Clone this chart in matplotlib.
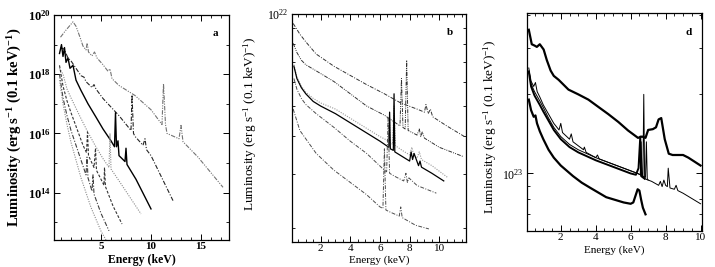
import numpy as np
import matplotlib
matplotlib.use('Agg')
import matplotlib.pyplot as plt
from matplotlib.ticker import FixedLocator, MultipleLocator, LogLocator, NullFormatter, FuncFormatter

plt.rcParams['font.family'] = ['Liberation Serif', 'DejaVu Serif']
plt.rcParams['mathtext.fontset'] = 'custom'
plt.rcParams['mathtext.rm'] = 'Liberation Serif'
plt.rcParams['mathtext.bf'] = 'Liberation Serif:bold'
plt.rcParams['mathtext.it'] = 'Liberation Serif:italic'

# ---- panel a : energy (keV) and log10 luminosity ----
A1_E = [0.95, 1.4, 1.9, 2.2, 2.5, 2.9, 3.2, 3.5, 3.62, 3.75, 4.1, 4.35, 4.6, 5.2, 5.7, 5.9, 6.1,
        6.8, 8.4, 10.0, 11.1, 11.25, 11.45, 11.6, 12.8, 13.0, 13.2, 14.7, 17.2]
A1_L = [19.25, 19.45, 19.65, 19.77, 19.62, 19.25, 18.95, 18.82, 19.05, 18.75, 18.62, 18.75, 18.55,
        18.32, 18.10, 18.18, 17.85, 17.62, 17.28, 16.80, 16.30, 17.68, 16.30, 16.00, 15.82, 16.27,
        15.72, 15.20, 14.18]
A2_E = [0.95, 1.3, 1.7, 2.0, 2.5, 3.0, 3.3, 3.5, 4.1, 4.3, 4.5, 5.2, 6.8, 8.0, 8.1, 8.25, 8.4,
        9.2, 9.4, 9.55, 10.0, 12.2]
A2_L = [18.90, 18.85, 18.55, 18.45, 18.20, 17.95, 17.90, 17.75, 17.55, 17.65, 17.50, 17.18, 16.60,
        16.10, 17.30, 16.00, 15.90, 15.60, 15.82, 15.45, 15.25, 13.73]
A3_E = [0.85, 1.05, 1.2, 1.35, 1.5, 1.7, 1.9, 2.2, 2.5, 3.0, 3.7, 4.5, 5.2, 6.0, 6.35, 6.45, 6.55,
        6.7, 6.8, 7.4, 7.5, 7.6, 8.5, 10.0]
A3_L = [18.70, 19.00, 18.60, 18.90, 18.40, 18.55, 18.20, 18.30, 17.80, 17.45, 17.00, 16.55, 16.15,
        15.75, 15.55, 16.70, 15.55, 15.75, 15.25, 15.05, 15.50, 14.95, 14.45, 13.45]
A4_E = [0.85, 1.2, 1.6, 2.0, 2.5, 3.0, 3.6, 4.4, 5.2, 5.8, 5.9, 6.0, 6.8, 9.0]
A4_L = [18.20, 18.00, 17.50, 17.20, 16.85, 16.50, 16.10, 15.60, 15.15, 14.85, 16.00, 14.80, 14.40,
        13.28]
A5_E = [0.85, 1.2, 1.6, 2.0, 2.6, 3.2, 3.55, 3.65, 3.75, 4.3, 4.45, 4.55, 5.3, 5.35, 5.45, 6.2, 7.1]
A5_L = [18.30, 17.60, 17.10, 16.70, 16.15, 15.60, 15.35, 16.05, 15.25, 14.85, 15.50, 14.75, 14.25,
        14.85, 14.20, 13.55, 12.94]
A6_E = [0.85, 1.2, 1.6, 2.0, 2.5, 3.0, 3.5, 3.6, 3.7, 4.1, 4.2, 4.3, 5.0, 5.8]
A6_L = [18.00, 17.20, 16.60, 16.10, 15.60, 15.10, 14.60, 15.20, 14.50, 14.05, 14.60, 13.95, 13.30,
        12.71]
A7_E = [0.85, 1.2, 1.6, 2.0, 2.5, 3.0, 3.5, 4.0, 4.5, 5.0, 5.5]
A7_L = [17.80, 17.00, 16.30, 15.70, 15.10, 14.50, 14.00, 13.50, 13.10, 12.70, 12.40]

# ---- panel b ----
B1_E = [0.15, 0.6, 1.0, 1.7, 2.9, 4.0, 5.1, 6.3, 7.4, 8.5, 9.0, 9.1, 9.25, 9.4, 9.55, 10.5, 11.7]
B1_L = [21.97, 21.935, 21.91, 21.87, 21.83, 21.80, 21.77, 21.74, 21.71, 21.69, 21.68, 21.705,
        21.675, 21.69, 21.665, 21.635, 21.60]
B2_E = [0.15, 0.4, 0.7, 1.0, 1.7, 2.9, 4.0, 5.1, 6.3, 7.35, 7.45, 7.55, 7.7, 7.8, 7.9, 8.5, 8.65,
        8.75, 8.85, 9.0, 10.0, 11.6]
B2_L = [21.905, 21.875, 21.85, 21.835, 21.815, 21.78, 21.74, 21.70, 21.67, 21.635, 21.79, 21.63,
        21.625, 21.85, 21.62, 21.605, 21.625, 21.60, 21.615, 21.595, 21.565, 21.535]
B3_E = [0.2, 0.4, 0.7, 1.0, 1.5, 2.0, 3.0, 4.0, 5.0, 6.0, 6.6, 6.65, 6.7, 6.85, 6.95, 7.05, 7.5,
        8.0, 8.15, 8.3, 8.5, 8.65, 8.8, 9.5, 10.6]
B3_L = [21.835, 21.795, 21.765, 21.745, 21.725, 21.71, 21.69, 21.66, 21.63, 21.60, 21.585, 21.66,
        21.58, 21.575, 21.70, 21.57, 21.555, 21.54, 21.565, 21.535, 21.53, 21.55, 21.525, 21.505,
        21.465]
B4_E = [0.2, 0.4, 0.7, 1.0, 1.5, 2.0, 3.0, 4.0, 5.0, 6.0, 6.3, 6.6, 6.65, 6.7, 6.9, 6.95, 7.0,
        7.5, 8.0, 8.1, 8.2, 8.3, 8.6, 8.7, 8.8, 9.5, 10.3]
B4_L = [21.83, 21.79, 21.76, 21.74, 21.715, 21.70, 21.675, 21.645, 21.615, 21.585, 21.575,
        21.565, 21.68, 21.56, 21.555, 21.74, 21.55, 21.535, 21.52, 21.55, 21.525, 21.545, 21.505,
        21.52, 21.50, 21.48, 21.455]
B5_E = [0.2, 0.4, 0.7, 1.0, 1.7, 2.9, 4.0, 5.1, 6.3, 6.45, 6.55, 6.65, 7.0, 7.6, 7.75, 7.85,
        7.95, 8.5, 9.8]
B5_L = [21.79, 21.755, 21.725, 21.705, 21.675, 21.63, 21.585, 21.545, 21.49, 21.485, 21.66,
        21.48, 21.47, 21.455, 21.48, 21.45, 21.465, 21.44, 21.415]
B6_E = [0.15, 0.6, 1.7, 2.9, 4.0, 5.1, 6.0, 6.2, 6.3, 6.4, 6.6, 7.3, 7.4, 7.5, 8.4, 9.3]
B6_L = [21.69, 21.62, 21.545, 21.49, 21.45, 21.41, 21.37, 21.365, 21.56, 21.36, 21.355, 21.34,
        21.37, 21.335, 21.31, 21.298]

# ---- panel d ----
D1_E = [0.17, 0.34, 0.5, 0.63, 0.8, 1.02, 1.2, 1.42, 1.6, 1.88, 2.44, 3.0, 3.58, 4.2, 4.72, 5.3,
        5.85, 6.42, 6.65, 6.85, 7.0, 7.27, 7.45, 7.6, 7.75, 7.95, 8.18, 8.4, 9.0, 9.3, 10.0]
D1_L = [23.545, 23.49, 23.485, 23.48, 23.49, 23.47, 23.43, 23.39, 23.37, 23.355, 23.318, 23.30,
        23.28, 23.25, 23.225, 23.195, 23.163, 23.135, 23.14, 23.135, 23.165, 23.168, 23.175,
        23.205, 23.21, 23.13, 23.075, 23.07, 23.07, 23.06, 23.03]
D2_E = [0.17, 0.3, 0.45, 0.55, 0.65, 0.8, 1.0, 1.3, 1.6, 1.9, 2.0, 2.1, 2.5, 2.6, 2.7, 3.0, 3.3,
        3.35, 3.45, 4.0, 4.1, 4.2, 5.0, 6.0, 6.4, 6.55, 6.6, 6.65, 6.7, 6.75, 6.8, 7.2, 7.6, 7.7,
        7.8, 7.9, 8.0, 8.1, 8.15, 8.25, 8.5, 8.6, 8.7, 9.0, 10.0]
D2_L = [23.40, 23.35, 23.33, 23.345, 23.31, 23.29, 23.26, 23.225, 23.19, 23.165, 23.19, 23.155,
        23.13, 23.15, 23.12, 23.105, 23.09, 23.10, 23.08, 23.06, 23.07, 23.055, 23.035, 23.01,
        23.00, 22.995, 23.12, 22.99, 22.985, 23.30, 22.98, 22.97, 22.955, 22.97, 22.95, 22.975,
        22.955, 22.95, 23.02, 22.945, 22.94, 22.955, 22.935, 22.925, 22.885]
D3_E = [0.17, 0.3, 0.5, 0.8, 1.0, 1.3, 1.6, 2.0, 2.5, 3.0, 3.5, 4.0, 5.0, 6.0, 6.4, 6.85, 6.9,
        6.95, 7.0]
D3_L = [23.39, 23.34, 23.31, 23.275, 23.25, 23.21, 23.175, 23.14, 23.11, 23.09, 23.075, 23.06,
        23.035, 23.01, 23.00, 22.985, 23.12, 22.98, 22.975]
D4_E = [0.17, 0.3, 0.5, 0.8, 1.0, 1.3, 1.6, 2.0, 2.5, 3.0, 3.5, 4.0, 5.0, 6.0, 6.3, 6.45, 6.55,
        6.6, 6.7, 6.8]
D4_L = [23.385, 23.33, 23.295, 23.26, 23.235, 23.20, 23.165, 23.13, 23.10, 23.08, 23.065, 23.05,
        23.025, 23.00, 22.995, 23.02, 23.14, 22.99, 22.985, 22.98]
D5_E = [0.17, 0.3, 0.45, 0.55, 0.64, 0.8, 1.0, 1.3, 1.6, 2.0, 2.7, 3.2, 3.7, 4.6, 5.6, 6.0, 6.15,
        6.3, 6.4, 6.5, 6.6, 6.7, 6.85]
D5_L = [23.28, 23.24, 23.215, 23.22, 23.19, 23.16, 23.13, 23.09, 23.06, 23.03, 22.99, 22.965,
        22.945, 22.91, 22.89, 22.885, 22.89, 22.92, 22.94, 22.935, 22.90, 22.87, 22.845]

DASHDOT = (0, (4, 1.5, 1, 1.5))
DASHDOTDOT = (0, (4, 1.2, 1, 1.2, 1, 1.2))
DOTTED = (0, (1, 1.2))
DASHED = (0, (2.5, 1.5))

YLABEL = r'Luminosity (erg s$^{-1}$ (0.1 keV)$^{-1}$)'
YLABEL_BF = r'Luminosity (erg s$^{\mathbf{-1}}$ (0.1 keV)$^{\mathbf{-1}}$)'


def curve(ax, e, logl, **kw):
    ax.plot(e, 10 ** np.array(logl), **kw)


def style_axis(ax, ysize=8.5, xsize=8):
    ax.set_yscale('log')
    ax.tick_params(which='both', direction='in', top=True, right=True)
    ax.tick_params(axis='y', labelsize=ysize, pad=2)
    ax.tick_params(axis='x', labelsize=xsize, pad=1.5)
    ax.tick_params(which='major', length=4, width=0.7)
    ax.tick_params(which='minor', length=2, width=0.6)
    for s in ax.spines.values():
        s.set_linewidth(0.9)


def power_label(bold):
    if bold:
        return FuncFormatter(lambda v, p: r'$\mathbf{10^{%d}}$' % round(np.log10(v)))
    return FuncFormatter(lambda v, p: r'$10^{%d}$' % round(np.log10(v)))


fig = plt.figure(figsize=(7.15, 2.67), dpi=100)

# panel a
ax = fig.add_axes([54 / 715, 27 / 267, 175 / 715, 225 / 267])
curve(ax, A1_E, A1_L, color='0.45', ls=DASHDOTDOT, lw=0.8)
curve(ax, A2_E, A2_L, color='0.15', ls=DASHDOT, lw=0.8)
curve(ax, A3_E, A3_L, color='black', ls='-', lw=1.0)
curve(ax, A4_E, A4_L, color='0.55', ls=DOTTED, lw=0.8)
curve(ax, A5_E, A5_L, color='0.2', ls=DASHED, lw=0.8)
curve(ax, A6_E, A6_L, color='0.25', ls=DASHDOT, lw=0.8)
curve(ax, A7_E, A7_L, color='0.55', ls=DOTTED, lw=0.8)
style_axis(ax, ysize=9, xsize=8)
ax.set_xlim(0.3, 17.8)
ax.set_ylim(10 ** 12.4, 1e20)
ax.xaxis.set_major_locator(MultipleLocator(5))
ax.xaxis.set_minor_locator(MultipleLocator(1))
ax.yaxis.set_major_locator(FixedLocator([1e14, 1e16, 1e18, 1e20]))
ax.yaxis.set_minor_locator(FixedLocator([1e13, 1e15, 1e17, 1e19]))
ax.yaxis.set_major_formatter(power_label(True))
ax.yaxis.set_minor_formatter(NullFormatter())
for lab in ax.get_xticklabels():
    lab.set_fontweight('bold')
ax.set_xlabel('Energy (keV)', fontsize=8.5, fontweight='bold')
ax.set_ylabel(YLABEL_BF, fontsize=10.5, fontweight='bold')
ax.yaxis.set_label_coords(-0.17, 0.5)
ax.xaxis.set_label_coords(0.5, -0.064)
ax.text(0.92, 0.92, 'a', transform=ax.transAxes, fontsize=8, fontweight='bold',
        ha='center', va='center')

# panel b
ax = fig.add_axes([291.7 / 715, 25 / 267, 174.3 / 715, 227.7 / 267])
curve(ax, B1_E, B1_L, color='0.2', ls=DASHDOT, lw=0.7)
curve(ax, B2_E, B2_L, color='0.2', ls=DASHDOTDOT, lw=0.7)
curve(ax, B3_E, B3_L, color='0.6', ls=DOTTED, lw=0.8)
curve(ax, B4_E, B4_L, color='black', ls='-', lw=0.9)
curve(ax, B5_E, B5_L, color='0.3', ls=DASHDOT, lw=0.7)
curve(ax, B6_E, B6_L, color='0.3', ls=DASHDOT, lw=0.7)
style_axis(ax)
ax.set_xlim(0.05, 11.8)
ax.set_ylim(1.8e21, 1e22)
ax.xaxis.set_major_locator(MultipleLocator(2))
ax.xaxis.set_minor_locator(MultipleLocator(0.5))
ax.yaxis.set_major_locator(FixedLocator([1e22]))
ax.yaxis.set_minor_locator(LogLocator(subs=np.arange(2, 10)))
ax.yaxis.set_major_formatter(power_label(False))
ax.yaxis.set_minor_formatter(NullFormatter())
ax.set_xlabel('Energy (keV)', fontsize=8)
ax.set_ylabel(YLABEL, fontsize=9.5)
ax.yaxis.set_label_coords(-0.19, 0.52)
ax.xaxis.set_label_coords(0.5, -0.058)
ax.text(0.91, 0.92, 'b', transform=ax.transAxes, fontsize=8, fontweight='bold',
        ha='center', va='center')

# panel d
ax = fig.add_axes([526.7 / 715, 36 / 267, 175.6 / 715, 218 / 267])
curve(ax, D1_E, D1_L, color='black', lw=1.6)
curve(ax, D2_E, D2_L, color='black', lw=0.7)
curve(ax, D3_E, D3_L, color='black', lw=0.7)
curve(ax, D4_E, D4_L, color='black', lw=1.4)
curve(ax, D5_E, D5_L, color='black', lw=1.6)
style_axis(ax)
ax.set_xlim(0.05, 10.1)
ax.set_ylim(6.05e22, 4.06e23)
ax.xaxis.set_major_locator(MultipleLocator(2))
ax.xaxis.set_minor_locator(MultipleLocator(0.5))
ax.yaxis.set_major_locator(FixedLocator([1e23]))
ax.yaxis.set_minor_locator(LogLocator(subs=np.arange(2, 10)))
ax.yaxis.set_major_formatter(power_label(False))
ax.yaxis.set_minor_formatter(NullFormatter())
ax.set_xlabel('Energy (keV)', fontsize=8)
ax.set_ylabel(YLABEL, fontsize=9.5)
ax.yaxis.set_label_coords(-0.16, 0.48)
ax.xaxis.set_label_coords(0.5, -0.068)
ax.text(0.92, 0.91, 'd', transform=ax.transAxes, fontsize=8, fontweight='bold',
        ha='center', va='center')

fig.savefig('out.png', dpi=100)
